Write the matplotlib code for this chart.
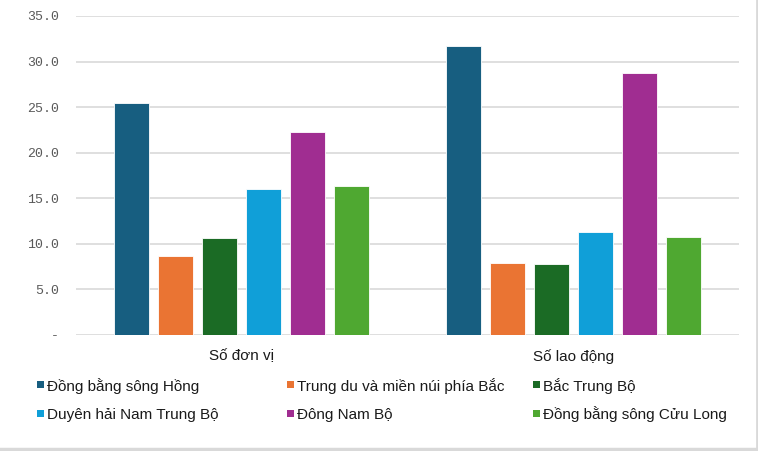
import matplotlib
matplotlib.use("Agg")
import matplotlib.pyplot as plt
from matplotlib.lines import Line2D
from matplotlib.patches import Rectangle
import numpy as np

categories = ["Số đơn vị", "Số lao động"]
regions = ["Đồng bằng sông Hồng", "Trung du và miền núi phía Bắc", "Bắc Trung Bộ",
           "Duyên hải Nam Trung Bộ", "Đông Nam Bộ", "Đồng bằng sông Cửu Long"]
values = {
    "Đồng bằng sông Hồng": [25.5, 31.7],
    "Trung du và miền núi phía Bắc": [8.7, 7.9],
    "Bắc Trung Bộ": [10.6, 7.8],
    "Duyên hải Nam Trung Bộ": [16.0, 11.35],
    "Đông Nam Bộ": [22.3, 28.7],
    "Đồng bằng sông Cửu Long": [16.3, 10.7],
}
colors = ["#175E80", "#EA7433", "#1B6B25", "#109FD8", "#A02D91", "#4FA831"]
yticks = [0, 5, 10, 15, 20, 25, 30, 35]
ytick_labels = ["-", "5.0", "10.0", "15.0", "20.0", "25.0", "30.0", "35.0"]

W, H = 758, 451
fig = plt.figure(figsize=(W/100, H/100), dpi=100)
ax = fig.add_axes([76/W, 1-335/H, (739-76)/W, (335-16)/H])

x = np.arange(len(categories))
step = 44/331.5
width = 35/331.5
for i, r in enumerate(regions):
    ax.bar(x + (i-2.5)*step, values[r], width=width, color=colors[i],
           edgecolor="white", linewidth=0.6, label=r, zorder=3)

ax.set_xlim(-0.5, 1.5)
ax.set_ylim(0, 35)
ax.set_yticks(yticks)
ax.set_yticklabels(ytick_labels, family="Liberation Mono", fontsize=9.5, color="#595959")
ax.set_xticks(x)
ax.set_xticklabels(categories, family="Liberation Sans", fontsize=11, color="#1a1a1a")
ax.tick_params(axis="both", length=0)
ax.tick_params(axis="y", pad=12)
ax.tick_params(axis="x", pad=10)
ax.grid(axis="y", color="#D9D9D9", linewidth=1.2, zorder=0)
for s in ax.spines.values():
    s.set_visible(False)

# legend: 3 columns x 2 rows, filled row-wise
col_x = [37, 287, 533]
row_y = [384, 413]
msize = 7
for i, r in enumerate(regions):
    cx = col_x[i % 3]
    cy = row_y[i // 3]
    fig.add_artist(Rectangle((cx/W, 1-(cy+msize/2)/H), msize/W, msize/H,
                             transform=fig.transFigure, facecolor=colors[i],
                             edgecolor="none"))
    fig.text((cx+msize+3)/W, 1-cy/H, r, ha="left", va="center_baseline",
             family="Liberation Sans", fontsize=11, color="#1a1a1a")

fig.add_artist(Line2D([1-1/W, 1-1/W], [0, 1], transform=fig.transFigure,
                      color="#D9D9D9", linewidth=2))
fig.add_artist(Line2D([0, 1], [2/H, 2/H], transform=fig.transFigure,
                      color="#D9D9D9", linewidth=2.5))
fig.savefig("out.png", dpi=100)
